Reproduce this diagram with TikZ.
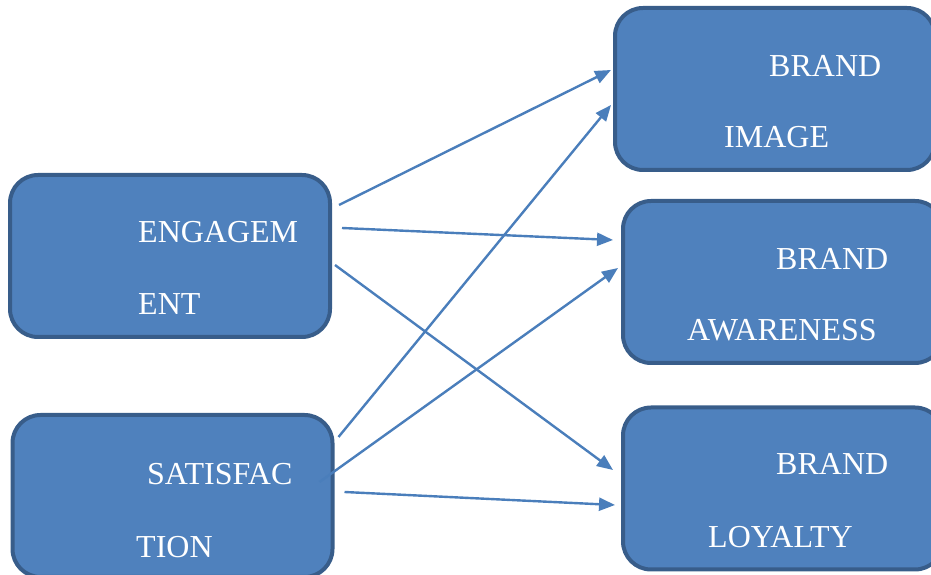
\documentclass[tikz,border=0pt]{standalone}
\usepackage{fontspec}
\setmainfont{Liberation Serif}
\usetikzlibrary{arrows.meta}
\definecolor{boxfill}{HTML}{4F81BD}
\definecolor{boxline}{HTML}{385D8A}
\definecolor{arrline}{HTML}{4A7EBB}
\begin{document}
\begin{tikzpicture}[x=1pt,y=1pt,
  box/.style={rectangle,rounded corners=28pt,draw=boxline,line width=4pt,fill=boxfill,minimum width=320pt,minimum height=162pt},
  lbl/.style={anchor=base west,inner sep=0pt,text=white,font=\fontsize{32}{38}\selectfont},
  arr/.style={draw=arrline,line width=2.4pt,-{Triangle[length=16pt,width=13pt]}}]
\useasboundingbox (0,0) rectangle (931,575);
\node[box] (eng) at (170,319) {};
\node[box] (sat) at (172.5,79) {};
\node[box] (img) at (775,486) {};
\node[box] (awa) at (783,293) {};
\node[box] (loy) at (783,86.5) {};
\node[lbl] (eng1) at (138,332) {ENGAGEM};
\node[lbl] (eng2) at (138,260) {ENT};
\node[lbl] (sat1) at (147,90) {SATISFAC};
\node[lbl] (sat2) at (136,17) {TION};
\node[lbl] (img1) at (769,498) {BRAND};
\node[lbl] (img2) at (724,427) {IMAGE};
\node[lbl] (awa1) at (776,305) {BRAND};
\node[lbl] (awa2) at (687,234) {AWARENESS};
\node[lbl] (loy1) at (776,100) {BRAND};
\node[lbl] (loy2) at (708,27) {LOYALTY};
\draw[arr] ([shift={(7,51)}]eng.east) -- ([shift={(-2,19)}]img.west);
\draw[arr] ([shift={(10,28)}]eng.east) -- ([shift={(-8,42)}]awa.west);
\draw[arr] ([shift={(3,-9)}]eng.east) -- ([shift={(-8,18.5)}]loy.west);
\draw[arr] ([shift={(4,59)}]sat.east) -- ([shift={(-2,-16)}]img.west);
\draw[arr] ([shift={(-15,14)}]sat.east) -- ([shift={(-3,14)}]awa.west);
\draw[arr] ([shift={(10,4)}]sat.east) -- ([shift={(-6,-16.5)}]loy.west);
\end{tikzpicture}
\end{document}
